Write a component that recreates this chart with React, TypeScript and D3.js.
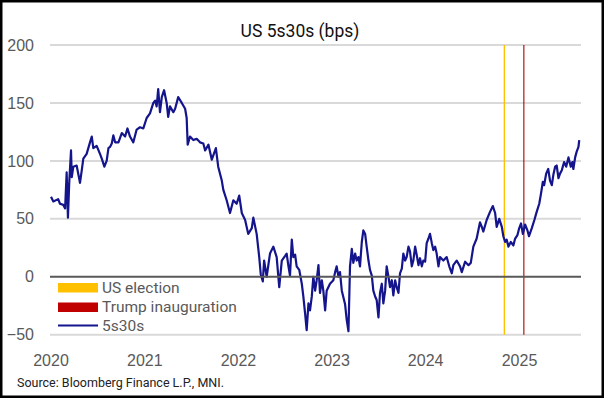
import { useEffect, useRef } from "react";
import * as d3 from "d3";

// US 5s30s spread (bps)
const dates = [
  "2020-01-03", "2020-01-12", "2020-01-31", "2020-02-07", "2020-02-20", "2020-02-27", "2020-03-04", "2020-03-09",
  "2020-03-14", "2020-03-21", "2020-03-24", "2020-03-30", "2020-04-12", "2020-04-19", "2020-04-25", "2020-05-02",
  "2020-05-08", "2020-05-21", "2020-06-03", "2020-06-10", "2020-06-16", "2020-06-29", "2020-07-12", "2020-07-19",
  "2020-07-29", "2020-08-07", "2020-08-14", "2020-08-20", "2020-08-27", "2020-09-02", "2020-09-09", "2020-09-22",
  "2020-10-05", "2020-10-18", "2020-10-27", "2020-11-06", "2020-11-19", "2020-12-02", "2020-12-15", "2020-12-28",
  "2021-01-10", "2021-01-23", "2021-02-05", "2021-02-12", "2021-02-18", "2021-02-24", "2021-03-03", "2021-03-10",
  "2021-03-19", "2021-03-29", "2021-04-04", "2021-04-11", "2021-04-24", "2021-05-01", "2021-05-13", "2021-05-27",
  "2021-06-09", "2021-06-15", "2021-06-19", "2021-06-28", "2021-07-11", "2021-07-24", "2021-08-06", "2021-08-19",
  "2021-08-26", "2021-09-08", "2021-09-21", "2021-10-07", "2021-10-16", "2021-10-30", "2021-11-05", "2021-11-18",
  "2021-12-01", "2021-12-14", "2021-12-27",
  "2022-01-06", "2022-01-16", "2022-01-29", "2022-02-10", "2022-02-24", "2022-03-02", "2022-03-15", "2022-03-25",
  "2022-03-31", "2022-04-08", "2022-04-13", "2022-04-23", "2022-05-06", "2022-05-19", "2022-06-01", "2022-06-11",
  "2022-06-21", "2022-07-04", "2022-07-10", "2022-07-17", "2022-07-23", "2022-07-30", "2022-08-05", "2022-08-12",
  "2022-08-18", "2022-08-28", "2022-09-07", "2022-09-13", "2022-09-20", "2022-09-26", "2022-10-03", "2022-10-09",
  "2022-10-16", "2022-10-22", "2022-10-29", "2022-11-04", "2022-11-11", "2022-11-17", "2022-11-24", "2022-11-30",
  "2022-12-07", "2022-12-13", "2022-12-26",
  "2023-01-08", "2023-01-15", "2023-01-21", "2023-01-28", "2023-02-03", "2023-02-10", "2023-02-23", "2023-03-01",
  "2023-03-08", "2023-03-14", "2023-03-21", "2023-03-27", "2023-04-03", "2023-04-09", "2023-04-16", "2023-04-22",
  "2023-04-29", "2023-05-05", "2023-05-12", "2023-05-18", "2023-05-25", "2023-05-31", "2023-06-07", "2023-06-13",
  "2023-06-20", "2023-06-26", "2023-07-03", "2023-07-09", "2023-07-16", "2023-07-22", "2023-07-29", "2023-08-04",
  "2023-08-11", "2023-08-17", "2023-08-24", "2023-08-30", "2023-09-06", "2023-09-12", "2023-09-19", "2023-09-25",
  "2023-10-02", "2023-10-08", "2023-10-15", "2023-10-21", "2023-10-28", "2023-11-03", "2023-11-10", "2023-11-16",
  "2023-11-23", "2023-11-29", "2023-12-06", "2023-12-12", "2023-12-19", "2023-12-25",
  "2024-01-01", "2024-01-07", "2024-01-14", "2024-01-20", "2024-01-27", "2024-02-02", "2024-02-09", "2024-02-15",
  "2024-02-22", "2024-02-28", "2024-03-12", "2024-03-25", "2024-04-04", "2024-04-14", "2024-04-20", "2024-05-03",
  "2024-05-16", "2024-05-23", "2024-06-05", "2024-06-18", "2024-06-27", "2024-07-07", "2024-07-20", "2024-08-02",
  "2024-08-09", "2024-08-15", "2024-08-28", "2024-09-10", "2024-09-21", "2024-09-30", "2024-10-06", "2024-10-16",
  "2024-10-26", "2024-11-01", "2024-11-08", "2024-11-14", "2024-11-21", "2024-11-30", "2024-12-10", "2024-12-17",
  "2024-12-26",
  "2025-01-02", "2025-01-09", "2025-01-16", "2025-01-25", "2025-02-03", "2025-02-09", "2025-02-20", "2025-03-02",
  "2025-03-11", "2025-03-21", "2025-03-28", "2025-04-04", "2025-04-09", "2025-04-17", "2025-04-25", "2025-05-02",
  "2025-05-09", "2025-05-15", "2025-05-22", "2025-05-28", "2025-06-04", "2025-06-10", "2025-06-17", "2025-06-26",
  "2025-07-04", "2025-07-13", "2025-07-22", "2025-07-28", "2025-08-01", "2025-08-08", "2025-08-14", "2025-08-21",
  "2025-08-24",
];

const spread = [
  69, 65, 67, 63, 62, 59, 90, 51,
  81, 109, 86, 95, 96, 88, 81, 92,
  102, 106, 116, 121, 111, 113, 106, 102,
  95, 100, 111, 112, 115, 122, 116, 116,
  124, 121, 128, 121, 116, 127, 129, 128,
  137, 141, 150, 152, 147, 162, 142, 155,
  161, 150, 138, 147, 142, 145, 155, 150,
  145, 137, 114, 121, 118, 119, 116, 115,
  109, 114, 101, 111, 95, 83, 75, 66,
  55, 66, 63,
  70, 55, 49, 37, 42, 51, 37, 17,
  2, -4, 14, 0, 20, 26, 17, -9,
  14, 18, 20, 9, 1, 32, 17, 19,
  9, 6, -6, -17, -32, -46, -23, -29,
  -17, 0, -12, -3, 10, -14, -3, -12,
  -29, -12, -6,
  -3, 4, 9, 0, 4, -12, -24, -37,
  -47, 9, 24, 12, 20, 14, 17, 9,
  30, 40, 37, 26, 14, 6, 1, -12,
  -17, -20, -35, -14, -6, -23, -12, 9,
  0, -9, -3, -16, -3, -9, -14, 3,
  7, 20, 14, 17, 26, 22, 9, 14,
  26, 19, 10, 16, 9, 14,
  13, 29, 33, 37, 29, 23, 26, 20,
  9, 17, 14, 17, 9, 3, 10, 14,
  9, 4, 13, 10, 12, 26, 33, 47,
  43, 39, 49, 56, 61, 55, 43, 50,
  43, 35, 30, 32, 26, 30, 27, 33,
  36,
  42, 46, 37, 45, 40, 35, 42, 49,
  56, 63, 72, 82, 79, 89, 93, 83,
  79, 88, 95, 96, 85, 89, 92, 99,
  95, 103, 95, 99, 93, 103, 108, 112,
  118,
];

const yTicks = [-50, 0, 50, 100, 150, 200];
const yearTicks = ["2020", "2021", "2022", "2023", "2024", "2025"];
const usElection = "2024-11-05";
const inauguration = "2025-01-20";
const legendLabels = ["US election", "Trump inauguration", "5s30s"];

export default function App() {
  const svgRef = useRef<SVGSVGElement>(null);

  useEffect(() => {
    if (!svgRef.current) return;
    document.body.style.margin = "0";

    const svg = d3.select(svgRef.current);
    svg.selectAll("*").remove();

    const width = 604;
    const height = 398;
    const parse = d3.timeParse("%Y-%m-%d");
    const data = dates.map((d, i) => ({ date: parse(d) as Date, value: spread[i] }));

    // frame
    svg.append("rect").attr("width", width).attr("height", height).attr("fill", "#000");
    svg.append("rect")
      .attr("x", 2.5).attr("y", 2.5)
      .attr("width", width - 5).attr("height", height - 5)
      .attr("fill", "#fff");

    const x = d3.scaleTime()
      .domain([parse("2020-01-01") as Date, parse("2025-09-01") as Date])
      .range([50.5, 581.3]);

    const y = d3.scaleLinear()
      .domain([-50, 200])
      .range([334.7, 45]);

    const left = 50;
    const right = 581;

    // Title
    svg.append("text")
      .attr("x", 300).attr("y", 37)
      .attr("text-anchor", "middle")
      .attr("font-family", "Roboto, sans-serif")
      .attr("font-size", 17.5)
      .attr("fill", "#111")
      .text("US 5s30s (bps)");

    // grid lines
    svg.append("g")
      .selectAll("line")
      .data(yTicks.filter(t => t !== 0))
      .join("line")
      .attr("x1", left).attr("x2", right)
      .attr("y1", d => y(d)).attr("y2", d => y(d))
      .attr("stroke", "#d9d9d9")
      .attr("stroke-width", 2);

    // y axis labels
    const yAxis = d3.axisLeft(y).tickValues(yTicks).tickSize(0).tickPadding(16);
    const gy = svg.append("g")
      .attr("transform", `translate(${left},0)`)
      .call(yAxis);
    gy.select(".domain").remove();
    gy.selectAll("text")
      .attr("font-family", "'Liberation Sans', Arial, sans-serif")
      .attr("font-size", 16)
      .attr("fill", "#595959");

    // x axis labels (at the bottom of the plot)
    const yearDates = yearTicks.map(t => parse(`${t}-01-01`) as Date);
    const xAxis = d3.axisBottom(x)
      .tickValues(yearDates)
      .tickSize(0)
      .tickFormat(d3.timeFormat("%Y") as any);
    const gx = svg.append("g")
      .attr("transform", `translate(0,${y(-50)})`)
      .call(xAxis);
    gx.select(".domain").remove();
    gx.selectAll("text")
      .attr("y", 31)
      .attr("dy", 0)
      .attr("font-family", "'Liberation Sans', Arial, sans-serif")
      .attr("font-size", 16)
      .attr("fill", "#595959");

    // event markers
    const markers = [
      { date: parse(usElection) as Date, color: "#ffc000", w: 1.4 },
      { date: parse(inauguration) as Date, color: "#a80000", w: 1.1 },
    ];
    svg.append("g")
      .selectAll("line")
      .data(markers)
      .join("line")
      .attr("x1", d => x(d.date)).attr("x2", d => x(d.date))
      .attr("y1", y(200)).attr("y2", y(-50))
      .attr("stroke", d => d.color)
      .attr("stroke-width", d => d.w);

    // series
    const line = d3.line<{ date: Date; value: number }>()
      .x(d => x(d.date))
      .y(d => y(d.value));

    svg.append("path")
      .datum(data)
      .attr("fill", "none")
      .attr("stroke", "#14148c")
      .attr("stroke-width", 2.2)
      .attr("stroke-linejoin", "round")
      .attr("d", line);

    // zero line
    svg.append("line")
      .attr("x1", left).attr("x2", right)
      .attr("y1", y(0)).attr("y2", y(0))
      .attr("stroke", "#595959")
      .attr("stroke-width", 2);

    // legend
    const legend = svg.append("g").attr("transform", "translate(58,283)");
    const swatchColors = ["#ffc000", "#c00000"];
    legendLabels.forEach((label, i) => {
      const row = legend.append("g").attr("transform", `translate(0,${i * 19.5})`);
      if (i < 2) {
        row.append("rect")
          .attr("width", 40).attr("height", 9.5)
          .attr("fill", swatchColors[i]);
      } else {
        row.append("line")
          .attr("x1", 0).attr("x2", 40)
          .attr("y1", 3.5).attr("y2", 3.5)
          .attr("stroke", "#14148c")
          .attr("stroke-width", 2);
      }
      row.append("text")
        .attr("x", 44).attr("y", i < 2 ? 9.5 : 8.5)
        .attr("font-family", "Roboto, sans-serif")
        .attr("font-size", 15.5)
        .attr("fill", "#595959")
        .text(label);
    });

    // source
    svg.append("text")
      .attr("x", 17).attr("y", 387)
      .attr("font-family", "Roboto, sans-serif")
      .attr("font-size", 12.5)
      .attr("fill", "#222")
      .text("Source: Bloomberg Finance L.P., MNI.");
  }, []);

  return <svg ref={svgRef} width={604} height={398} style={{ display: "block" }} />;
}
